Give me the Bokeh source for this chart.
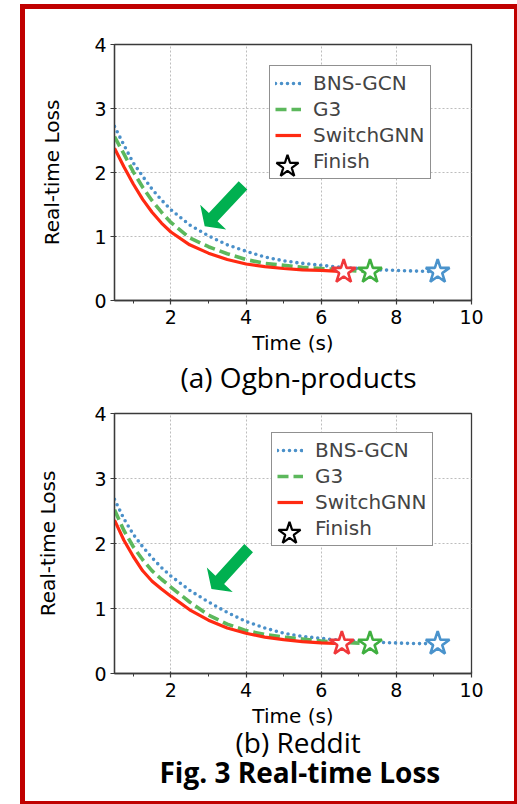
import math
from bokeh.plotting import figure
from bokeh.models import (FixedTicker, Legend, LegendItem, Title, PolyAnnotation, Range1d)
from bokeh.layouts import column
from bokeh.embed import file_html
from bokeh.resources import INLINE

# ---------------- data ----------------
X_RANGE = (0.5, 10)
Y_RANGE = (0, 4)
X_TICKS = [2, 4, 6, 8, 10]
X_MINOR = [1, 3, 5, 7, 9]
Y_TICKS = [0, 1, 2, 3, 4]
SERIES = ["BNS-GCN", "G3", "SwitchGNN"]
FINISH_LABEL = "Finish"
X_LABEL = "Time (s)"
Y_LABEL = "Real-time Loss"
CAPTION_A = "(a) Ogbn-products"
CAPTION_B = "(b) Reddit"
FIG_CAPTION = "Fig. 3 Real-time Loss"

# (a) Ogbn-products
a_bns_x = [0.5, 0.75, 1.0, 1.25, 1.5, 1.75, 2.0, 2.5, 3.0, 3.5, 4.0, 4.5, 5.0, 5.5, 6.0, 6.5, 7.0, 7.5, 8.0, 8.5, 9.1]
a_bns_y = [2.72, 2.43, 2.15, 1.94, 1.74, 1.57, 1.42, 1.18, 1.01, 0.87, 0.77, 0.68, 0.62, 0.58, 0.55, 0.52, 0.50, 0.48, 0.47, 0.46, 0.45]
a_g3_x = [0.5, 0.75, 1.0, 1.25, 1.5, 1.75, 2.0, 2.5, 3.0, 3.5, 4.0, 4.5, 5.0, 5.5, 6.0, 6.5, 7.3]
a_g3_y = [2.56, 2.29, 2.01, 1.77, 1.56, 1.38, 1.22, 0.98, 0.84, 0.73, 0.64, 0.58, 0.55, 0.52, 0.50, 0.48, 0.45]
a_sw_x = [0.5, 0.75, 1.0, 1.25, 1.5, 1.75, 2.0, 2.5, 3.0, 3.5, 4.0, 4.5, 5.0, 5.5, 6.0, 6.6]
a_sw_y = [2.38, 2.09, 1.82, 1.58, 1.38, 1.21, 1.07, 0.87, 0.74, 0.64, 0.57, 0.53, 0.50, 0.48, 0.47, 0.45]

# (b) Reddit
b_bns_x = [0.5, 0.75, 1.0, 1.25, 1.5, 1.75, 2.0, 2.5, 3.0, 3.5, 4.0, 4.5, 5.0, 5.5, 6.0, 6.5, 7.0, 7.5, 8.0, 8.5, 9.1]
b_bns_y = [2.68, 2.38, 2.14, 1.95, 1.78, 1.63, 1.50, 1.28, 1.10, 0.94, 0.80, 0.70, 0.62, 0.57, 0.54, 0.51, 0.50, 0.48, 0.47, 0.46, 0.46]
b_g3_x = [0.5, 0.75, 1.0, 1.25, 1.5, 1.75, 2.0, 2.5, 3.0, 3.5, 4.0, 4.5, 5.0, 5.5, 6.0, 6.5, 7.3]
b_g3_y = [2.52, 2.20, 1.95, 1.75, 1.58, 1.45, 1.33, 1.10, 0.90, 0.76, 0.66, 0.60, 0.56, 0.53, 0.50, 0.48, 0.46]
b_sw_x = [0.5, 0.75, 1.0, 1.25, 1.5, 1.75, 2.0, 2.5, 3.0, 3.5, 4.0, 4.5, 5.0, 5.5, 6.0, 6.55]
b_sw_y = [2.36, 2.05, 1.80, 1.58, 1.42, 1.30, 1.19, 0.98, 0.82, 0.70, 0.62, 0.56, 0.52, 0.49, 0.47, 0.46]

# annotation arrow (tail, tip) in data units
a_arrow = ((3.92, 1.80), (2.90, 1.16))
b_arrow = ((4.07, 1.93), (3.08, 1.30))

# ---------------- style ----------------
BLUE, BLUE_STAR = "#4A90C9", "#4A93CC"
GREEN, GREEN_STAR = "#5CB85C", "#3FAF3F"
RED, RED_STAR = "#FF2A12", "#F0373A"
ARROW_GREEN = "#00B050"
AX_FONT = "DejaVu Sans"
CAP_FONT = "Open Sans"
FRAME_COLOR = "#3a3a3a"


def arrow_polygon(tail, tip, kx, ky, shaft_hw=6.0, head_len=12.5, head_hw=18.0):
    tx, ty = tail[0] * kx, tail[1] * ky
    px, py = tip[0] * kx, tip[1] * ky
    dx, dy = px - tx, py - ty
    L = math.hypot(dx, dy)
    ux, uy = dx / L, dy / L
    nx, ny = -uy, ux
    bx, by = px - ux * head_len, py - uy * head_len
    pts = [
        (tx + nx * shaft_hw, ty + ny * shaft_hw),
        (bx + nx * shaft_hw, by + ny * shaft_hw),
        (bx + nx * head_hw, by + ny * head_hw),
        (px, py),
        (bx - nx * head_hw, by - ny * head_hw),
        (bx - nx * shaft_hw, by - ny * shaft_hw),
        (tx - nx * shaft_hw, ty - ny * shaft_hw),
    ]
    return [q[0] / kx for q in pts], [q[1] / ky for q in pts]


def build(width, height, ml, mr, mt, mb, bns, g3, sw, arrow, legend_left, legend_top_off,
          label_standoff_y, captions):
    p = figure(width=width, height=height, output_backend="svg", toolbar_location=None,
               x_range=Range1d(*X_RANGE), y_range=Range1d(*Y_RANGE),
               min_border_left=ml, min_border_right=mr, min_border_top=mt, min_border_bottom=mb)
    fw = width - ml - mr
    fh = height - mt - mb
    p.background_fill_color = "white"
    p.border_fill_color = "white"
    p.outline_line_color = FRAME_COLOR
    p.outline_line_width = 1.3

    p.xaxis.ticker = FixedTicker(ticks=X_TICKS, minor_ticks=X_MINOR)
    p.yaxis.ticker = FixedTicker(ticks=Y_TICKS)
    for ax in (p.xaxis[0], p.yaxis[0]):
        ax.axis_line_color = FRAME_COLOR
        ax.axis_line_width = 1.3
        ax.major_tick_line_color = FRAME_COLOR
        ax.major_tick_line_width = 1.2
        ax.major_tick_in = 2
        ax.major_tick_out = 4
        ax.minor_tick_line_color = FRAME_COLOR
        ax.minor_tick_in = 0
        ax.minor_tick_out = 3
        ax.major_label_text_font = AX_FONT
        ax.major_label_text_font_size = "19px"
        ax.major_label_text_color = "black"
        ax.axis_label_text_font = AX_FONT
        ax.axis_label_text_font_size = "20px"
        ax.axis_label_text_font_style = "normal"
        ax.axis_label_text_color = "black"
    p.yaxis.minor_tick_line_color = None
    p.xaxis.major_label_standoff = 5
    p.yaxis.major_label_standoff = 4
    p.xaxis.axis_label = X_LABEL
    p.yaxis.axis_label = Y_LABEL
    p.xaxis.axis_label_standoff = 4
    p.yaxis.axis_label_standoff = label_standoff_y

    for g in (p.xgrid[0], p.ygrid[0]):
        g.grid_line_color = "#bdbdbd"
        g.grid_line_dash = "2 2"
        g.grid_line_width = 1

    # arrow callout
    kx = fw / (X_RANGE[1] - X_RANGE[0])
    ky = fh / (Y_RANGE[1] - Y_RANGE[0])
    axs, ays = arrow_polygon(arrow[0], arrow[1], kx, ky)
    p.add_layout(PolyAnnotation(xs=axs, ys=ays, fill_color=ARROW_GREEN, fill_alpha=1,
                                line_color=None))

    rb = p.line(bns[0], bns[1], line_color=BLUE, line_width=3.6, line_dash="0 6", line_cap="round")
    rg = p.line(g3[0], g3[1], line_color=GREEN, line_width=3.6, line_dash="11 5")
    rr = p.line(sw[0], sw[1], line_color=RED, line_width=3.2)

    for (xs, ys), col in ((sw, RED_STAR), (g3, GREEN_STAR), (bns, BLUE_STAR)):
        p.scatter([xs[-1]], [ys[-1]], marker="star", size=25, line_color=col,
                  fill_color="white", line_width=2.6)

    dummy = p.scatter(x=[], y=[], size=0, fill_alpha=0, line_alpha=0)
    # legend proxy for the "Finish" marker: a hidden renderer holding one finish point
    star_proxy = p.scatter([sw[0][-1]], [sw[1][-1]], marker="star", line_color="black",
                           fill_color="white", line_width=2.2)
    star_proxy.visible = False

    pad, gh, sp = 5, 24, 2
    leg_h = 2 * pad + 4 * gh + 3 * sp
    top = fh - legend_top_off
    leg = Legend(items=[LegendItem(label=SERIES[0], renderers=[rb]),
                        LegendItem(label=SERIES[1], renderers=[rg]),
                        LegendItem(label=SERIES[2], renderers=[rr]),
                        LegendItem(label=FINISH_LABEL, renderers=[dummy])],
                 location=(legend_left, top - leg_h), padding=pad, spacing=sp,
                 glyph_width=26, glyph_height=gh, label_height=gh, label_standoff=12,
                 label_text_font=AX_FONT, label_text_font_size="20px",
                 label_text_baseline="middle",
                 border_line_color="#222222", border_line_width=1.4,
                 background_fill_color="white", background_fill_alpha=1, margin=0)
    p.add_layout(leg)

    G = 58
    cy = top - (pad + 3 * (gh + sp) + gh / 2) - 4
    cx = legend_left + pad + 13
    leg2 = Legend(items=[LegendItem(label=" ", renderers=[star_proxy])],
                  location=(cx - G / 2, cy - G / 2), padding=0, spacing=0,
                  glyph_width=G, glyph_height=G, label_height=G, label_standoff=0,
                  label_width=0, label_text_font_size="1px",
                  inactive_fill_alpha=0, inactive_fill_color="white",
                  border_line_color=None, background_fill_alpha=0, margin=0)
    p.add_layout(leg2)

    for text, size, style, off, standoff in captions:
        p.add_layout(Title(text=text, align="left", offset=off, text_font=CAP_FONT,
                           text_font_size=size, text_font_style=style, standoff=standoff,
                           text_color="black"), "below")
    return p


p1 = build(489, 388, 89, 40, 35, 97, (a_bns_x, a_bns_y), (a_g3_x, a_g3_y), (a_sw_x, a_sw_y),
           a_arrow, 155, 23, 27, [(CAPTION_A, "28px", "normal", 66, -4)])
p2 = build(489, 404, 82, 43, 16, 128, (b_bns_x, b_bns_y), (b_g3_x, b_g3_y), (b_sw_x, b_sw_y),
           b_arrow, 157, 21, 31,
           [(CAPTION_B, "28px", "normal", 121, -20), (FIG_CAPTION, "28px", "bold", 45, 0)])

layout = column(p1, p2, styles={
    "position": "absolute",
    "left": "20px",
    "top": "4px",
    "box-sizing": "content-box",
    "border-left": "5px solid #C00000",
    "border-top": "5px solid #C00000",
    "border-right": "3px solid #C00000",
    "border-bottom": "3px solid #C00000",
})

open("out.html", "w").write(file_html(layout, INLINE))
